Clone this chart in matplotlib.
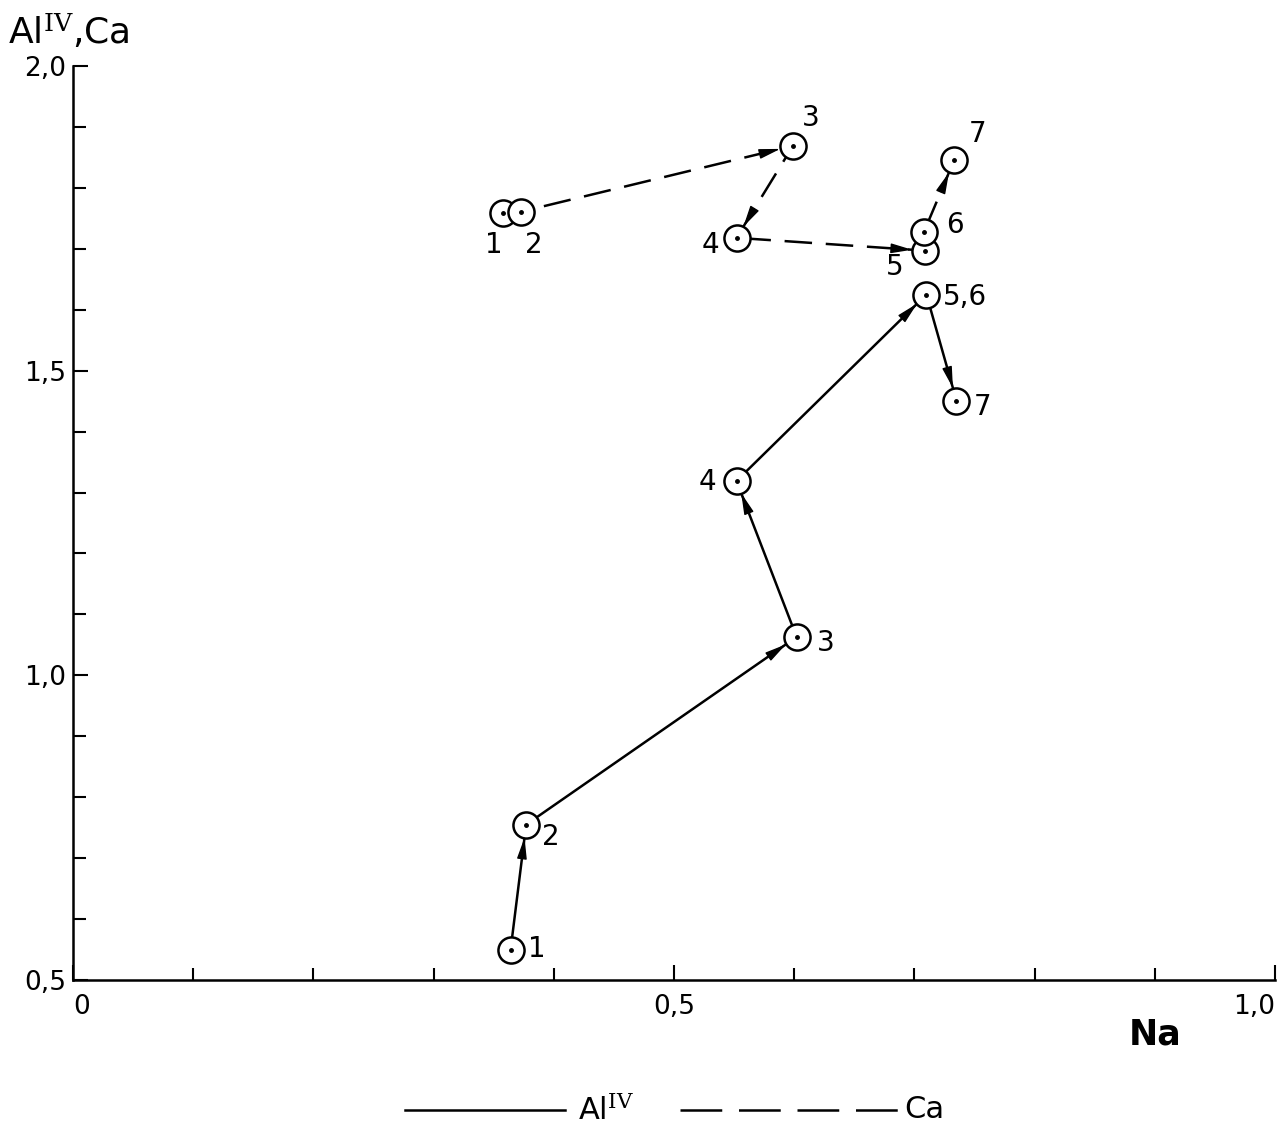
import matplotlib
matplotlib.use("Agg")
import matplotlib.pyplot as plt
from matplotlib.lines import Line2D
import numpy as np

# ---- data ----
al_x = [0.364, 0.377, 0.602, 0.552, 0.710, 0.735]
al_y = [0.549, 0.755, 1.063, 1.319, 1.625, 1.451]
al_labels = ["1", "2", "3", "4", "5,6", "7"]

ca_x = [0.358, 0.373, 0.599, 0.552, 0.709, 0.708, 0.733]
ca_y = [1.759, 1.761, 1.869, 1.718, 1.697, 1.728, 1.845]
ca_labels = ["1", "2", "3", "4", "5", "6", "7"]

xtick_vals = [0.0, 0.5, 1.0]
xtick_text = ["0", "0,5", "1,0"]
ytick_vals = [0.5, 1.0, 1.5, 2.0]
ytick_text = ["0,5", "1,0", "1,5", "2,0"]

# label offsets (points) for the point numbers
al_offsets = [(19, 1), (18, -9), (21, -4), (-21, -1), (28, -2), (19, -5)]
ca_offsets = [(-7, -23), (9, -24), (13, 20), (-19, -5), (-22, -12), (22, 5), (17, 19)]

plt.rcParams['mathtext.fontset'] = 'dejavuserif'
plt.rcParams['font.family'] = ['DejaVu Sans']

fig = plt.figure(figsize=(12.82, 11.33), dpi=100)
ax = fig.add_axes([73/1282, 1-980/1133, (1275-73)/1282, (980-66)/1133])
ax.set_xlim(0, 1.0)
ax.set_ylim(0.5, 2.0)

for s in ['top', 'right']:
    ax.spines[s].set_visible(False)
for s in ['left', 'bottom']:
    ax.spines[s].set_linewidth(1.8)

ax.set_xticks(xtick_vals)
xl = ax.set_xticklabels(xtick_text, fontsize=19)
xl[0].set_horizontalalignment('left')
xl[-1].set_horizontalalignment('right')
ax.set_xticks(np.arange(0, 1.01, 0.1), minor=True)
ax.set_yticks(ytick_vals)
ax.set_yticklabels(ytick_text, fontsize=19)
ax.set_yticks(np.arange(0.5, 2.01, 0.1), minor=True)
ax.tick_params(which='both', direction='in', width=1.5)
ax.tick_params(which='major', length=11, pad=10)
ax.tick_params(which='minor', length=9)
ax.tick_params(axis='y', which='major', pad=5)

R = 9.4  # circle radius in points
PX = 100 / 72.0


def draw_series(xs, ys, dashes=None):
    kw = dict(color='black', lw=1.8, zorder=2, solid_capstyle='butt')
    if dashes:
        ax.plot(xs, ys, '--', dashes=dashes, **kw)
    else:
        ax.plot(xs, ys, '-', **kw)
    # arrowheads at destination circle edge
    for i in range(len(xs) - 1):
        p0 = ax.transData.transform((xs[i], ys[i]))
        p1 = ax.transData.transform((xs[i + 1], ys[i + 1]))
        d = p1 - p0
        L = np.hypot(*d)
        if L < 2.2 * R * PX:
            continue
        u = d / L
        back = R + 15.0  # points
        ax.annotate("", xy=(xs[i + 1], ys[i + 1]),
                    xytext=(-u[0] * back, -u[1] * back), textcoords='offset points',
                    arrowprops=dict(arrowstyle='-|>,head_length=1.3,head_width=0.3',
                                    color='black', lw=1.0, shrinkA=0, shrinkB=R),
                    zorder=3)
    ax.plot(xs, ys, 'o', ms=2 * R, mfc='white', mec='black', mew=1.8, ls='none', zorder=4)
    ax.plot(xs, ys, 'o', ms=2.5, color='black', ls='none', zorder=5)


draw_series(al_x, al_y)
draw_series(ca_x, ca_y, dashes=(11, 5.5))

for x, y, t, off in zip(al_x, al_y, al_labels, al_offsets):
    ax.annotate(t, (x, y), xytext=off, textcoords='offset points',
                ha='center', va='center', fontsize=20)
for x, y, t, off in zip(ca_x, ca_y, ca_labels, ca_offsets):
    ax.annotate(t, (x, y), xytext=off, textcoords='offset points',
                ha='center', va='center', fontsize=20)

# axis titles
ax.annotate("Na", (0.900, -0.060), xycoords='axes fraction', ha='center', va='center',
            fontsize=25, fontweight='bold')
fig.text(8/1282, 1-32/1133, r"Al$^{\mathrm{IV}}$,Ca", ha='left', va='center', fontsize=26)

# legend at bottom
ly = 1 - 1110/1133
fig.add_artist(Line2D([405/1282, 565/1282], [ly, ly], transform=fig.transFigure,
                      color='black', lw=1.8))
fig.text(578/1282, ly, r"Al$^{\mathrm{IV}}$", ha='left', va='center', fontsize=22)
fig.add_artist(Line2D([680/1282, 900/1282], [ly, ly], transform=fig.transFigure,
                      color='black', lw=1.8, ls='--', dashes=(16.7, 6.7)))
fig.text(904/1282, ly, "Ca", ha='left', va='center', fontsize=22)

fig.savefig("out.png", dpi=100)
